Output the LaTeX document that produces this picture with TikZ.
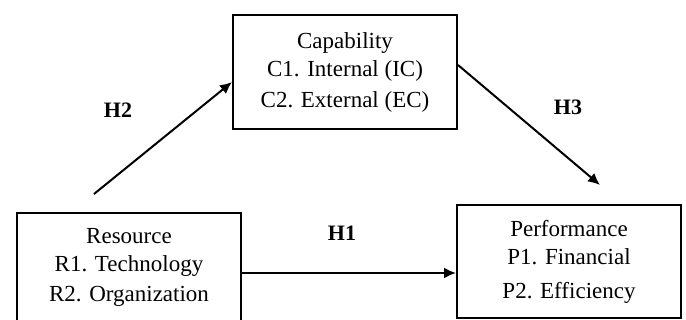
\documentclass[tikz,border=0pt]{standalone}
\usepackage{fontspec}
\setmainfont{Liberation Serif}
\usetikzlibrary{positioning,arrows.meta}

\begin{document}
\begin{tikzpicture}[x=1pt,y=-1pt,line width=2pt,>={Latex[length=12pt,width=11pt]},
  box/.style={draw=black,align=center,minimum width=224pt,inner sep=0pt,font=\fontsize{23}{28}\selectfont},
  hyp/.style={font=\fontsize{22}{25}\selectfont\bfseries}]
                \useasboundingbox (0,0) rectangle (686,320);
                \node[box,minimum height=114pt] (cap) at (345,72) {Capability\\C1. Internal (IC)\\[3pt]C2. External (EC)};
                \node[box,minimum height=109pt] (res) at (129,267.5) {Resource\\R1. Technology\\[2pt]R2. Organization};
                \node[box,minimum height=113pt] (perf) at (569,261.5) {Performance\\P1. Financial\\[6pt]P2. Efficiency};
                \coordinate (h2start) at (94,194);
                \coordinate (h3end) at (600,185);
                \coordinate (h1start) at ([yshift=-5.5pt]res.east);
                \node[hyp] (h1) at (342,233) {H1};
                \node[hyp] (h2) at (118,110) {H2};
                \node[hyp] (h3) at (568,107) {H3};
                \draw[->] (h1start) -- (h1start -| perf.west);
                \draw[->] (h2start) -- ([yshift=-10pt]cap.west);
                \draw[->] ([yshift=7pt]cap.east) -- (h3end);
            \end{tikzpicture}
\end{document}
